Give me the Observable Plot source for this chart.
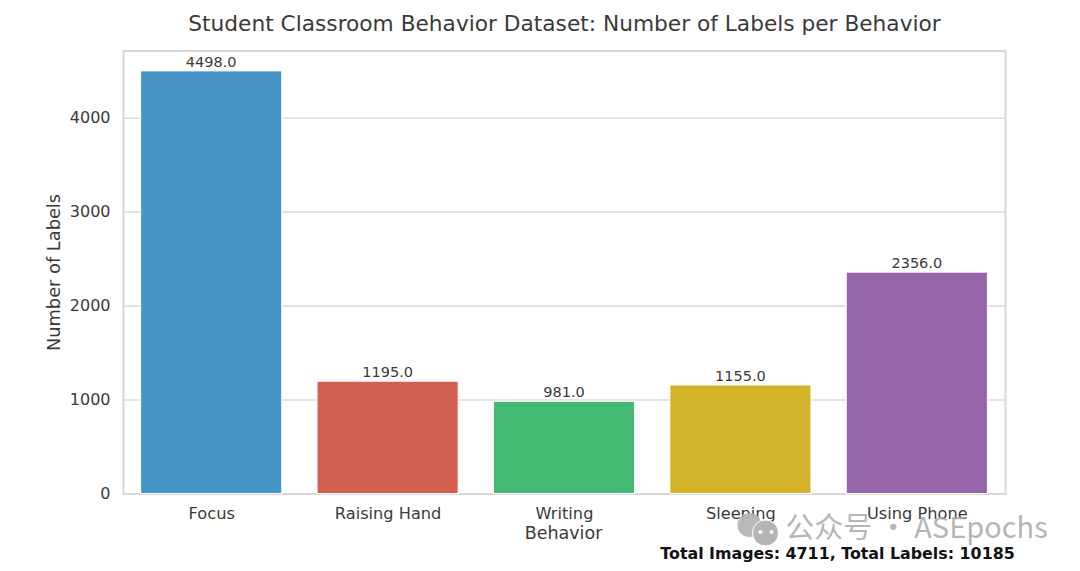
<!DOCTYPE html>
<html><head><meta charset="utf-8">
<script src="https://cdn.jsdelivr.net/npm/d3@7"></script>
<script src="https://cdn.jsdelivr.net/npm/@observablehq/plot@0.6"></script>
<style>html,body{margin:0;padding:0;background:#fff;overflow:hidden}
#c{position:relative;width:1080px;height:571px}
svg{position:absolute;left:0;top:0;font-family:"DejaVu Sans"}
</style></head><body><div id="c"></div>
<script>
const behaviors=["Focus","Raising Hand","Writing","Sleeping","Using Phone"];
const counts=[4498,1195,981,1155,2356];
const colors=["#4794c8","#d25f50","#44b974","#d4b229","#9664a9"];
const yTicks=[0,1000,2000,3000,4000];
const rows=behaviors.map((b,i)=>({b,v:counts[i],c:colors[i]}));
const ink="#3a3a3a";
const chart=Plot.plot({width:1080,height:571,marginLeft:123,marginRight:75,marginTop:50.5,marginBottom:77.5,
 style:{background:"transparent",fontFamily:"DejaVu Sans",color:ink},
 x:{domain:behaviors,paddingInner:0.2,paddingOuter:0.1,align:0.5,round:false,label:null,axis:null},
 y:{domain:[0,4715],label:null,axis:null},
 marks:[
  Plot.gridY(yTicks,{stroke:"#dcdcdc",strokeOpacity:1,strokeWidth:1.6}),
  Plot.frame({stroke:"#d8d8d8",strokeWidth:2}),
  Plot.barY(rows,{x:"b",y:"v",fill:"c",stroke:"#fff",strokeWidth:1}),
  Plot.text(rows,{x:"b",y:"v",text:d=>d.v.toFixed(1),dy:-9.5,dx:-0.5,fontSize:14.5,fill:ink}),
  Plot.text(yTicks,{frameAnchor:"left",y:d=>d,text:d=>String(d),textAnchor:"end",dx:-13,fontSize:16,fill:ink}),
  Plot.text(behaviors,{x:d=>d,frameAnchor:"bottom",text:d=>d,dy:25,fontSize:16.2,fill:ink}),
  Plot.text(["Behavior"],{frameAnchor:"bottom",dy:45,dx:-1,fontSize:17.5,fill:ink}),
  Plot.text(["Number of Labels"],{frameAnchor:"left",textAnchor:"middle",dx:-69,rotate:-90,fontSize:17.8,fill:ink}),
  Plot.text(["Student Classroom Behavior Dataset: Number of Labels per Behavior"],{frameAnchor:"top",dy:-35,fontSize:21.7,fill:ink}),
  Plot.text(["Total Images: 4711, Total Labels: 10185"],{frameAnchor:"bottom",dx:273,dy:65,fontSize:15.85,fontWeight:"bold",fill:"#111"}),
  // WeChat-style watermark: two bubbles with their eyes, then the account name
  Plot.dot([0],{frameAnchor:"bottom",dx:185,dy:31,r:12,fill:"#b5b5b5",fillOpacity:0.95}),
  Plot.dot([0],{frameAnchor:"bottom",dx:201,dy:39,r:13,fill:"#b5b5b5",stroke:"#fff",strokeWidth:1}),
  Plot.dot([0],{frameAnchor:"bottom",dx:196,dy:38,r:2,fill:"#fff"}),
  Plot.dot([0],{frameAnchor:"bottom",dx:207,dy:38,r:2,fill:"#fff"}),
  Plot.text(["公众号 · ASEpochs"],{frameAnchor:"bottom",dx:352,dy:44,fontSize:29,fill:"#a8a8a8",fillOpacity:0.85,fontFamily:"Noto Sans CJK SC"})
 ]});
document.getElementById("c").append(chart);
</script></body></html>
